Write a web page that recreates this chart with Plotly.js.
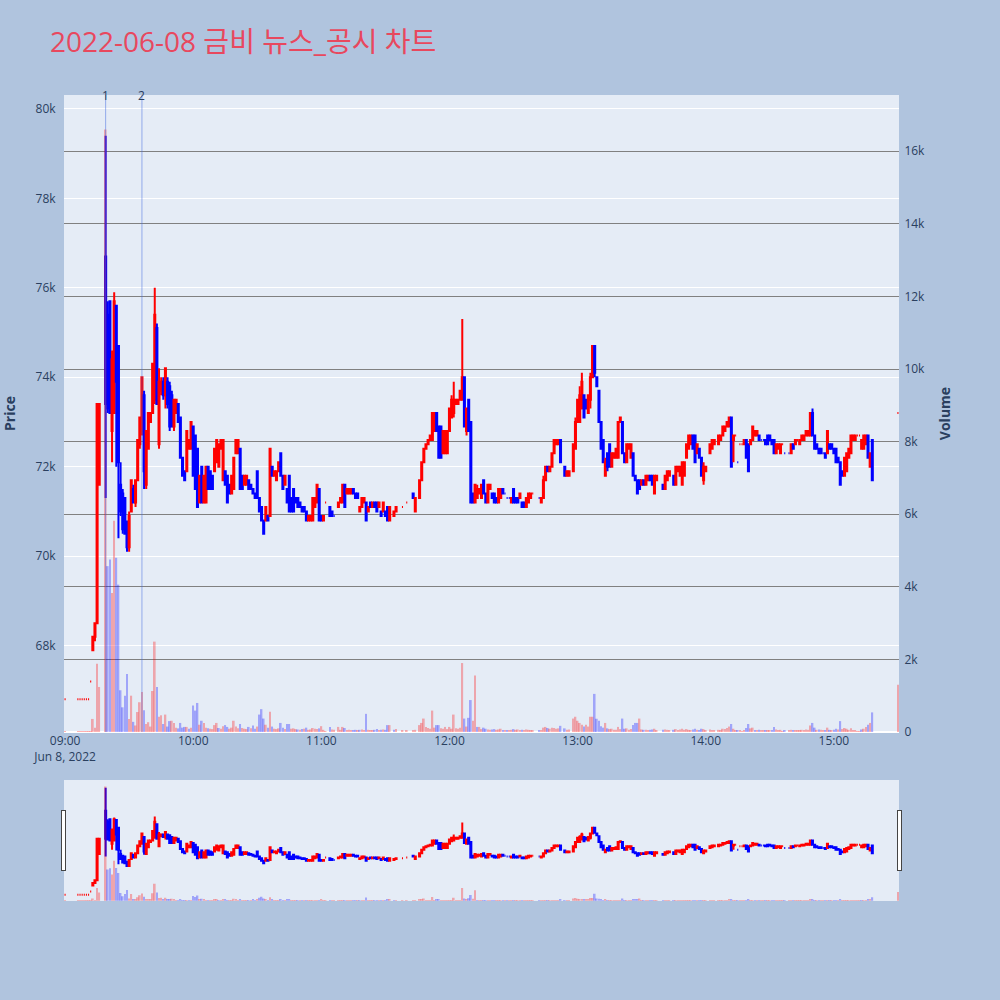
<!DOCTYPE html>
<html>
<head>
<meta charset="utf-8">
<script src="https://cdn.plot.ly/plotly-3.0.1.min.js"></script>
<style>html,body{margin:0;padding:0;background:#B0C4DE}</style>
</head>
<body>
<div id="chart" style="width:1000px;height:1000px"></div>
<script>
const DAY = '2022-06-08';

// 1-minute bars (KRW), grouped by row blocks
const times = [
  '09:00','09:06','09:07','09:08','09:09','09:10','09:11','09:12','09:13','09:14','09:15','09:16',
  '09:19','09:20','09:21','09:22','09:23','09:24','09:25','09:26','09:27','09:28','09:29',
  '09:30','09:31','09:32','09:33','09:34','09:35','09:36','09:37','09:38','09:39',
  '09:40','09:41','09:42','09:43','09:44','09:45','09:46','09:47','09:48','09:49',
  '09:50','09:51','09:52','09:53','09:54','09:55','09:56','09:57','09:58','09:59',
  '10:00','10:01','10:02','10:03','10:04','10:05','10:06','10:07','10:08','10:09',
  '10:10','10:11','10:12','10:13','10:14','10:15','10:16','10:17','10:18','10:19',
  '10:20','10:21','10:22','10:23','10:24','10:25','10:26','10:27','10:28','10:29',
  '10:30','10:31','10:32','10:33','10:34','10:35','10:36','10:37','10:38','10:39',
  '10:40','10:41','10:42','10:43','10:44','10:45','10:46','10:47','10:48','10:49',
  '10:50','10:51','10:52','10:53','10:54','10:55','10:56','10:57','10:58','10:59',
  '11:00','11:01','11:02','11:04','11:05','11:06','11:08','11:09','11:10','11:11',
  '11:12','11:13','11:14','11:15','11:16','11:17','11:18','11:19','11:20','11:21',
  '11:22','11:23','11:24','11:25','11:26','11:27','11:28','11:29','11:30','11:31',
  '11:32','11:34','11:35','11:38','11:40','11:43','11:44','11:46','11:47','11:48','11:49',
  '11:50','11:51','11:52','11:53','11:54','11:55','11:56','11:57','11:58','11:59',
  '12:00','12:01','12:02','12:03','12:04','12:05','12:06','12:07','12:08','12:09',
  '12:10','12:11','12:12','12:13','12:14','12:15','12:16','12:17','12:18','12:19',
  '12:20','12:21','12:22','12:23','12:24','12:25','12:26','12:27','12:28','12:29',
  '12:30','12:31','12:32','12:33','12:34','12:35','12:36','12:37','12:38','12:39',
  '12:42','12:43','12:44','12:45','12:46','12:47','12:48','12:49','12:50','12:51','12:52',
  '12:54','12:55','12:56','12:58','12:59','13:00','13:01','13:02','13:03',
  '13:04','13:05','13:06','13:07','13:08','13:09','13:10','13:11','13:12','13:13',
  '13:14','13:15','13:16','13:17','13:18','13:19','13:20','13:21','13:22','13:23',
  '13:24','13:25','13:26','13:27','13:28','13:29','13:30','13:31','13:32','13:33',
  '13:34','13:35','13:36','13:37','13:40','13:41','13:42','13:43',
  '13:45','13:46','13:47','13:48','13:49','13:50','13:51','13:52','13:53','13:54','13:55',
  '13:56','13:57','13:58','13:59','14:00','14:02','14:03','14:04',
  '14:06','14:07','14:08','14:09','14:10','14:11','14:12','14:13','14:14','14:15',
  '14:16','14:17','14:18','14:19','14:20','14:21','14:22','14:23','14:24','14:25',
  '14:26','14:27','14:28','14:29','14:30','14:31','14:32','14:33','14:34','14:35',
  '14:36','14:37','14:39','14:40','14:41','14:42','14:43','14:44','14:45','14:46',
  '14:47','14:48','14:49','14:50','14:51','14:52','14:53','14:54','14:55','14:56',
  '14:57','14:58','14:59','15:00','15:01','15:02','15:03','15:04','15:05','15:06',
  '15:07','15:08','15:09','15:10','15:11','15:12','15:13','15:14','15:15','15:16','15:17','15:18','15:30'
];

const opens = [
  66800,66800,66800,66800,66800,66800,66800,67200,67900,68200,68500,71600,
  76700,75400,75700,72800,73200,75600,74700,71600,71400,71300,70700,
  70200,71000,71500,71200,71700,72500,72800,73600,71600,72400,
  73000,73200,73500,75100,72500,73700,73900,73600,73900,73800,
  73600,72900,73200,73400,73100,72200,71900,71900,72400,72400,
  72900,72700,72400,71200,72000,71200,71200,72000,71900,71800,
  71900,72100,72000,72400,71700,71900,71800,71600,71400,71500,
  72300,72300,72400,71800,71600,71600,71700,71600,71500,71400,
  71900,71300,71100,70800,70800,70900,70900,72000,71800,71700,
  71900,72300,71800,71600,71500,71800,71300,71500,71300,71300,
  71200,71100,71100,71000,70800,70800,70800,71100,71200,71500,
  70900,70800,71200,71100,71000,70900,71100,71200,71200,71600,
  71400,71400,71400,71500,71400,71400,71000,71100,71200,71200,
  71000,71200,71100,71200,71200,71100,71000,71000,71000,71100,
  70800,70900,71000,71100,71200,71400,71000,71300,71700,72100,72400,
  72500,72600,72600,72800,73200,72900,72900,72300,72300,72300,
  72800,73100,73200,73400,73400,73500,73500,74000,72800,73500,
  73000,71400,71200,71300,71400,71300,71700,71400,71200,71500,
  71400,71400,71300,71200,71300,71500,71400,71300,71300,71200,
  71500,71300,71300,71300,71200,71200,71100,71200,71300,71400,
  71300,71200,71300,71700,72000,71900,72000,72300,72500,72500,72600,
  72000,71800,71800,71900,72400,73000,73000,73300,73600,
  73500,73200,73500,74000,74700,74000,73700,73000,72600,71800,
  72300,72500,72000,72200,72200,72200,73000,73000,72300,72100,
  72400,72200,72300,71800,71700,71700,71600,71700,71600,71700,
  71800,71800,71400,71700,71600,71500,71700,71800,
  71800,71600,71900,71800,71600,71800,72200,72400,72500,72700,72700,
  72300,72400,72200,71700,71900,72300,72400,72500,
  72500,72600,72700,72800,72900,72900,73100,72600,72700,72100,
  72500,72500,72500,72600,72500,72500,72600,72700,72700,72700,
  72600,72600,72600,72700,72700,72600,72600,72300,72400,72300,
  72500,72300,72300,72300,72500,72500,72600,72500,72600,72600,
  72700,72700,72700,73200,72700,72500,72400,72400,72300,72300,
  72300,72500,72500,72400,72400,72200,72100,71900,71800,71900,
  72200,72300,72600,72600,72700,72700,72400,72400,72500,72700,72000,72600,73200
];

const highs = [
  66800,66800,66800,66800,66800,66800,66800,67200,68200,68500,73400,73400,
  79400,75700,75700,74600,75900,75600,74700,72100,71500,71300,70800,
  71000,71700,71600,71700,72600,73100,74000,73700,72800,73200,
  73200,74300,76000,75200,74200,74000,74000,74200,74000,73900,
  73700,73500,73500,73400,73100,72200,71900,72800,72600,73000,
  72900,72700,72400,71800,72000,71800,72000,72000,71900,71800,
  72400,72600,72500,72600,72600,71900,71800,71600,71800,72200,
  72600,72600,72400,71800,71800,71800,71700,71600,71500,71400,
  71900,71300,71100,70800,71100,70900,72400,72000,71900,71900,
  72100,72300,71800,71800,71500,71800,71300,71500,71300,71300,
  71200,71100,71100,71000,70900,70900,71300,71300,71600,71500,
  70900,70900,71200,71100,71000,70900,71200,71300,71600,71600,
  71500,71500,71500,71500,71400,71400,71100,71300,71300,71200,
  71100,71200,71200,71200,71200,71200,71000,71200,71000,71100,
  71100,71000,71100,71100,71200,71400,71300,71700,72100,72400,72500,
  72600,72700,73200,73200,73200,72900,72900,72800,72800,72800,
  73300,73600,73900,73500,73500,73700,75300,74000,73300,73500,
  73000,71400,71600,71600,71500,71600,71700,71400,71600,71600,
  71400,71400,71300,71500,71500,71500,71400,71300,71300,71300,
  71500,71300,71300,71400,71200,71200,71300,71400,71400,71400,
  71300,71300,71800,72000,72000,72000,72300,72600,72600,72600,72600,
  72000,71900,71900,72500,73100,73500,73800,74100,73600,
  73500,73600,74100,74700,74700,74000,73700,73000,72600,72200,
  72300,72500,72300,72300,72400,73000,73100,73000,72300,72500,
  72500,72500,72300,71800,71700,71700,71700,71700,71800,71800,
  71800,71800,71800,71800,71600,71800,71900,71900,
  71800,72000,72000,72000,72100,72100,72500,72700,72700,72700,72700,
  72500,72400,72200,72100,72000,72500,72600,72600,
  72700,72700,72900,72900,73000,73100,73100,72700,72700,72100,
  72500,72500,72600,72600,72500,72600,72900,72800,72800,72700,
  72600,72600,72600,72700,72700,72600,72600,72500,72500,72500,
  72500,72300,72300,72500,72500,72600,72600,72600,72700,72700,
  72800,72800,73200,73300,72700,72500,72400,72400,72300,72300,
  72800,72500,72500,72400,72400,72200,72100,71900,72200,72300,
  72400,72700,72700,72700,72700,72700,72600,72700,72700,72700,72300,72600,73200
];

const lows = [
  66800,66800,66800,66800,66800,66800,66800,67200,67900,68100,68500,71600,
  71300,73200,73200,72100,73200,72000,70400,70900,70500,70500,70100,
  70100,71000,71200,71100,71700,72400,72700,71500,71500,72400,
  73000,73200,73400,73400,72400,73600,73500,73300,73300,72800,
  72900,72800,73200,73000,72200,71800,71700,71900,72400,72400,
  71800,71500,71100,71200,71200,71200,71200,71500,71500,71500,
  71900,72100,72000,72400,71700,71600,71200,71400,71400,71500,
  72300,72300,71500,71500,71600,71600,71500,71500,71400,71300,
  71300,71000,70800,70500,70800,70800,70900,71800,71800,71700,
  71900,71800,71500,71600,71200,71000,71000,71000,71200,71100,
  71100,71000,71000,70800,70800,70800,70800,71100,71200,70800,
  70800,70800,71200,70900,70900,70900,71100,71200,71200,71100,
  71400,71400,71400,71400,71300,71300,71000,71100,71200,70800,
  71000,71100,71100,71100,71000,71100,70900,71000,70900,70800,
  70800,70900,71000,71100,71200,71300,71000,71300,71700,72100,72400,
  72500,72600,72600,72800,72800,72200,72200,72300,72300,72300,
  72800,73100,73100,73400,73400,73500,73500,72900,72700,72800,
  71200,71200,71200,71300,71400,71300,71400,71200,71200,71500,
  71300,71200,71200,71200,71300,71400,71400,71300,71300,71200,
  71200,71200,71200,71300,71100,71100,71100,71200,71300,71400,
  71300,71200,71300,71700,71900,71900,72000,72300,72500,72500,72100,
  71800,71800,71800,71900,72400,73000,73000,73300,73100,
  73300,73200,73300,74000,74000,73800,73000,72400,72100,71800,
  71900,72000,72000,72200,72200,72200,73000,72300,72100,72100,
  72400,72200,71800,71700,71400,71500,71600,71600,71600,71700,
  71700,71600,71400,71700,71500,71500,71700,71800,
  71600,71600,71900,71800,71600,71800,72200,72400,72500,72400,72100,
  72300,72200,71800,71600,71900,72300,72400,72500,
  72500,72600,72700,72800,72900,72900,72000,72100,72700,72100,
  72500,72500,72500,72200,71900,72500,72600,72700,72700,72600,
  72600,72600,72500,72500,72600,72500,72300,72300,72400,72300,
  72500,72300,72300,72300,72400,72500,72600,72500,72600,72600,
  72700,72700,72700,72700,72400,72400,72300,72300,72300,72200,
  72300,72400,72400,72300,72100,72100,71600,71800,71800,71900,
  72200,72300,72600,72600,72700,72700,72400,72400,72500,72200,72000,71700,73200
];

const closes = [
  66800,66800,66800,66800,66800,66800,66800,67200,68200,68500,73400,73400,
  73400,73300,73200,74400,75700,73900,72100,71000,70600,70500,70200,
  70900,71700,71200,71700,72600,73100,74000,71900,72800,73200,
  73200,74300,75400,73400,73900,73900,73600,74200,73400,72900,
  72900,73500,73500,73000,72200,71800,71700,72800,72600,73000,
  71800,71500,71100,71800,71200,71800,72000,71500,71500,71500,
  72400,72600,72500,72600,72600,71600,71200,71400,71800,72200,
  72600,72600,71500,71500,71800,71800,71500,71500,71400,71300,
  71300,71000,70800,70500,71100,70800,72400,71800,71900,71900,
  72100,71800,71500,71800,71200,71000,71000,71000,71200,71100,
  71100,71000,71000,70800,70900,70900,71300,71300,71600,70800,
  70800,70900,71200,70900,70900,70900,71200,71300,71600,71100,
  71500,71500,71500,71400,71300,71300,71100,71300,71300,70800,
  71100,71100,71200,71100,71000,71200,70900,71200,70900,70800,
  71100,71000,71100,71100,71200,71300,71300,71700,72100,72400,72500,
  72600,72700,73200,73200,72800,72200,72200,72800,72800,72800,
  73300,73500,73500,73500,73500,73700,74000,72900,73300,72800,
  71200,71200,71600,71500,71500,71600,71400,71200,71600,71600,
  71300,71200,71200,71500,71500,71400,71400,71300,71300,71300,
  71200,71200,71200,71400,71100,71100,71300,71400,71400,71400,
  71300,71300,71700,72000,71900,72000,72300,72600,72600,72600,72100,
  71800,71900,71900,72500,73000,73500,73600,73900,73100,
  73300,73600,74000,74700,74100,73800,73000,72400,72100,72100,
  72000,72000,72300,72300,72400,73000,73100,72300,72100,72500,
  72500,72500,71800,71700,71400,71500,71700,71600,71800,71800,
  71700,71600,71800,71800,71500,71800,71900,71900,
  71600,72000,72000,72000,72100,72100,72500,72700,72700,72400,72100,
  72500,72200,71800,72000,72000,72500,72600,72600,
  72700,72700,72900,72900,73000,73100,72000,72700,72700,72100,
  72500,72500,72600,72200,71900,72600,72900,72800,72800,72600,
  72600,72600,72500,72500,72600,72500,72300,72500,72500,72500,
  72500,72300,72300,72500,72400,72600,72600,72600,72700,72700,
  72800,72800,73200,72700,72400,72400,72300,72300,72300,72200,
  72800,72400,72400,72300,72100,72100,71600,71800,72200,72300,
  72400,72700,72700,72700,72700,72700,72600,72700,72700,72200,72300,71700,73200
];

const volumes = [
  5,5,5,5,5,5,5,10,360,120,1880,1240,
  16600,4570,4750,3830,5820,4800,4060,1150,680,1000,1600,
  360,1000,280,180,550,820,1100,600,220,270,
  150,1130,2490,1240,420,460,220,480,150,300,
  310,250,120,100,250,120,140,140,90,120,
  730,590,800,200,310,250,120,100,90,80,
  190,250,110,90,160,190,140,90,120,310,
  150,100,220,110,90,80,140,100,180,90,
  150,480,630,370,200,120,560,150,90,80,
  100,250,120,80,220,220,90,100,80,70,
  60,80,90,120,60,70,110,90,80,100,
  160,60,20,140,70,60,140,60,140,110,
  50,60,40,50,60,50,60,70,50,500,
  60,40,50,60,80,50,60,70,60,190,
  190,60,80,30,30,40,60,190,250,370,140,
  110,90,590,120,190,190,100,90,140,80,
  140,90,480,100,90,120,1900,370,150,390,
  880,310,1560,140,140,80,120,90,70,60,
  70,80,60,70,90,50,40,40,30,60,
  80,60,70,50,60,50,70,60,50,30,
  30,50,120,140,110,90,120,110,90,100,170,
  100,60,70,370,420,310,250,200,150,
  200,150,420,420,1050,365,310,160,120,250,
  100,80,90,60,60,140,80,370,90,100,
  60,80,190,250,250,370,70,60,60,50,
  60,70,90,50,60,70,60,50,
  60,80,50,70,90,60,80,60,50,70,90,
  60,50,90,80,50,70,50,40,
  60,50,90,80,110,150,220,90,30,30,
  30,20,50,110,220,100,120,50,40,60,
  30,30,40,50,40,50,140,70,40,60,
  20,30,30,60,40,50,30,40,60,50,
  70,60,180,250,120,60,70,60,30,50,
  120,60,50,60,90,70,300,80,110,90,
  60,100,50,40,20,20,70,90,140,200,250,540,1300
];

// news / disclosure markers
const newsTimes = ['09:19', '09:36'];
const newsLabels = ['1', '2'];

const x = times.map(t => DAY + ' ' + t);
const volColors = closes.map((c, i) => (i === 0 || c >= closes[i - 1]) ? 'red' : 'blue');

const candles = {
  type: 'candlestick',
  x: x, open: opens, high: highs, low: lows, close: closes,
  increasing: {line: {color: 'red'}, fillcolor: 'red'},
  decreasing: {line: {color: 'blue'}, fillcolor: 'blue'},
  xaxis: 'x', yaxis: 'y',
  name: 'Price',
  hoverinfo: 'skip'
};

const volume = {
  type: 'bar',
  x: x, y: volumes,
  marker: {color: volColors, opacity: 0.3},
  xaxis: 'x', yaxis: 'y2',
  name: 'Volume',
  hoverinfo: 'skip'
};

const shapes = newsTimes.map(t => ({
  type: 'line', xref: 'x', yref: 'paper',
  x0: DAY + ' ' + t, x1: DAY + ' ' + t, y0: 0, y1: 1,
  line: {color: 'rgba(65,105,225,0.5)', width: 1}
}));

const annotations = newsTimes.map((t, i) => ({
  xref: 'x', yref: 'paper', x: DAY + ' ' + t, y: 1,
  text: newsLabels[i], showarrow: false,
  xanchor: 'center', yanchor: 'middle',
  font: {size: 12, color: '#2a3f5f'}
}));

const layout = {
  width: 1000, height: 1000,
  paper_bgcolor: '#B0C4DE',
  plot_bgcolor: '#E5ECF6',
  font: {family: '"Open Sans", verdana, arial, sans-serif', size: 12, color: '#2a3f5f'},
  title: {
    text: '2022-06-08 금비 뉴스_공시 차트',
    x: 0.05, xanchor: 'left', xref: 'container',
    y: 0.958, yanchor: 'middle', yref: 'container',
    font: {family: '"Open Sans", "Noto Sans CJK KR", sans-serif', size: 28, color: '#E8485E'}
  },
  margin: {l: 64, r: 101, t: 95, b: 100},
  showlegend: false,
  hovermode: false,
  bargap: 0.2,
  xaxis: {
    type: 'date',
    range: [DAY + ' 08:59:30', DAY + ' 15:30:30'],
    showgrid: false, zeroline: false, showline: false,
    ticks: '',
    rangeslider: {visible: true, thickness: 0.15, bgcolor: '#E5ECF6', borderwidth: 0}
  },
  yaxis: {
    title: {text: '<b>Price</b>', font: {size: 14, color: '#2a3f5f'}, standoff: 20},
    range: [66070, 80310],
    gridcolor: 'white', gridwidth: 1,
    zeroline: false,
    ticks: 'outside', ticklen: 5, tickcolor: 'rgba(0,0,0,0)',
    side: 'left'
  },
  yaxis2: {
    title: {text: '<b>Volume</b>', font: {size: 14, color: '#2a3f5f'}, standoff: 16},
    overlaying: 'y', side: 'right',
    range: [0, 17550],
    showgrid: true, gridcolor: 'gray', gridwidth: 1,
    zeroline: true, zerolinecolor: 'white', zerolinewidth: 2,
    ticks: 'outside', ticklen: 2, tickcolor: 'rgba(0,0,0,0)'
  },
  shapes: shapes,
  annotations: annotations
};

Plotly.newPlot('chart', [candles, volume], layout, {displayModeBar: false, responsive: false});
</script>
</body>
</html>
